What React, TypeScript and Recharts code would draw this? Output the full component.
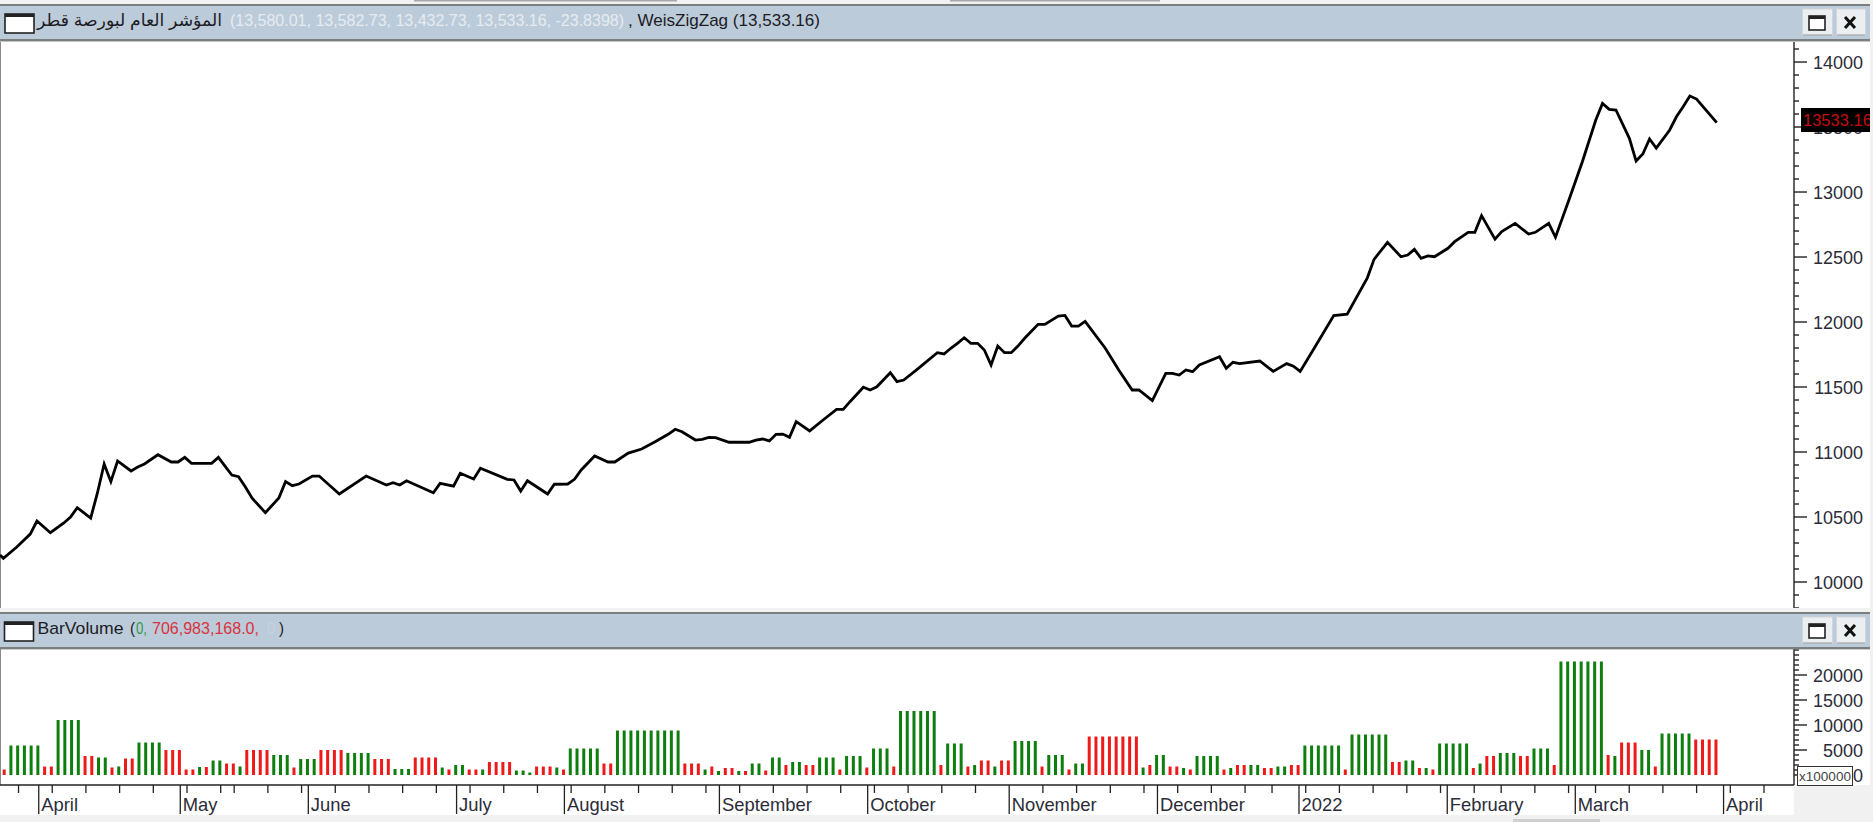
import React from "react";
import { ComposedChart, BarChart, Line, Bar, Cell, XAxis, YAxis } from "recharts";

// ---- Wave volume (units of 100000 shares), one wave = run of equal bars
const waveBars = [1,5,2,4,2,2,1,1,2,4,3,2,1,1,2,2,1,4,3,1,3,4,4,3,3,4,1,1,2,2,1,4,2,1,3,1,1,5,2,10,
  3,1,1,1,2,1,1,2,1,2,1,2,2,3,1,3,1,3,1,6,1,3,1,1,2,1,2,4,1,3,1,2,8,1,1,2,2,1,1,4,1,1,2,
  2,2,2,2,6,1,6,2,2,1,1,1,5,1,1,2,3,2,3,1,7,1,1,3,2,1,5,4];
const waveVolume = [1100,5900,1700,11000,3800,3500,1500,1700,3300,6500,5000,1100,1600,1600,2900,2300,1700,5000,4000,1500,3200,5000,4400,3200,1200,3500,1500,1100,2000,1100,1100,2600,900,500,1700,1500,1100,5300,2300,8900,
  2300,1100,1700,800,1400,800,800,2300,900,3500,2000,2600,2000,3500,1100,3800,1500,5300,1700,12800,2000,6300,1700,2000,2900,1700,2900,6800,1700,4000,1100,2300,7700,1500,2000,4000,1700,1400,1100,3800,1100,1400,2000,
  2000,1400,1700,2000,5900,1100,8100,2600,2900,1400,1400,1100,6300,1400,2300,3800,4400,3800,5300,2000,22700,4000,3800,6500,5000,1700,8300,7100];
const waveUp = [0,1,0,1,0,1,0,1,0,1,0,0,1,0,1,0,1,0,1,0,1,0,1,0,1,0,1,0,1,0,1,0,1,1,0,1,0,1,0,1,
  0,1,0,1,0,1,0,1,0,1,0,1,0,1,0,1,0,1,0,1,0,1,0,1,0,1,0,1,0,1,0,1,0,1,0,1,0,1,0,1,0,1,0,
  1,0,1,0,1,0,1,0,1,0,1,0,1,0,1,0,1,0,1,0,1,0,1,0,1,0,1,0];

// ---- Zigzag pivots: session index and close
const pivotBars = [
  -0.5,0,2,4,5,7,9,10,11,13,
  14,15,16,17,19,20,21,23,25,26,
  27,28,31,32,34,35,36,37,39,41,
  42,43,44,46,47,50,54,57,58,59,
  60,64,65,67,68,70,71,75,76,77,
  78,81,82,84,85,86,88,90,91,93,
  95,97,99,100,101,103,104,105,106,108,
  111,112,113,114,115,116,117,118,120,122,
  124,125,126,128,129,130,132,133,134,136,
  139,140,141,142,143,144,145,146,147,148,
  149,150,151,152,154,155,157,158,159,160,
  161,164,166,168,169,171,173,174,175,176,
  177,178,181,182,183,184,187,189,191,192,
  193,195,198,200,203,204,206,208,209,210,
  211,212,213,215,216,218,219,220,222,223,
  225,227,228,230,231,233,235,237,238,239,
  240,242,243,244,245,246,248,249,250,251,
  252,255];
const pivotCloses = [
  10208,10182,10269,10369,10469,10379,10454,10500,10572,10492,
  10685,10908,10772,10931,10854,10885,10908,10979,10923,10923,
  10959,10913,10913,10959,10823,10810,10733,10646,10533,10646,
  10772,10741,10754,10815,10815,10677,10815,10746,10764,10746,
  10779,10687,10759,10738,10836,10792,10875,10790,10785,10700,
  10779,10677,10752,10754,10790,10862,10969,10923,10923,10992,
  11023,11079,11138,11175,11156,11092,11098,11113,11110,11075,
  11075,11092,11100,11085,11136,11138,11113,11233,11162,11246,
  11328,11328,11387,11498,11477,11502,11610,11541,11554,11636,
  11764,11754,11798,11836,11879,11836,11836,11785,11669,11815,
  11764,11764,11815,11875,11982,11982,12046,12051,11969,11969,
  12005,11798,11631,11477,11477,11395,11605,11605,11592,11631,
  11618,11669,11733,11644,11690,11680,11700,11620,11680,11660,
  11620,11790,12050,12060,12340,12482,12613,12502,12515,12559,
  12490,12508,12502,12567,12618,12690,12690,12818,12638,12695,
  12759,12677,12690,12759,12652,12938,13233,13554,13682,13636,
  13631,13413,13238,13292,13408,13338,13477,13579,13656,13738,
  13715,13533.16];

// ---- Axis labels
const priceLabels = [10000,10500,11000,11500,12000,12500,13000,13500,14000];
const priceMinorTicks = [9800,9900,10100,10200,10300,10400,10600,10700,10800,10900,11100,11200,11300,11400,11600,11700,11800,11900,12100,12200,12300,12400,12600,12700,12800,12900,13100,13200,13300,13400,13600,13700,13800,13900,14100];
const volumeLabels = [0,5000,10000,15000,20000];
const volumeMinorTicks = [1000,2000,3000,4000,6000,7000,8000,9000,11000,12000,13000,14000,16000,17000,18000,19000,21000,22000,23000,24000,25000];
const monthNames = ["April","May","June","July","August","September","October","November","December","2022","February","March","April"];
const monthBars = [5,26,45,67,83,106,128,149,171,192,214,233,255];
const weekBars = [2,7,12,17,22,27,32,34,39,44,49,54,59,64,69,74,79,84,89,94,99,104,109,114,119,124,129,134,139,144,154,159,164,169,174,179,184,188,193,198,203,208,213,218,222,227,232,236,241,246,251,256,261];

// ---- Header texts
const seriesTitle = "المؤشر العام لبورصة قطر";
const ohlcText = "(13,580.01, 13,582.73, 13,432.73, 13,533.16, -23.8398)";
const overlayText = ", WeisZigZag (13,533.16)";
const lastClose = "13533.16";

// ---- Tables built from the arrays above
const lineData = pivotBars.map((bar, k) => ({ bar, close: pivotCloses[k] }));
const barData: { bar: number; volume: number; up: number }[] = [];
waveBars.forEach((n, w) => {
  for (let k = 0; k < n; k++) barData.push({ bar: barData.length, volume: waveVolume[w], up: waveUp[w] });
});

const INK = "#2c2c38";
const GREEN = "#0e7f0e";
const RED = "#ee1a1a";
const FONT = "'Liberation Sans', Arial, sans-serif";
const W = 1873;
const AXIS_X = 1794;
const TIME_AXIS_Y = 136; // inside the lower chart

function valueTick(labels: number[]) {
  return (p: any) => {
    const major = labels.includes(p.payload.value);
    return (
      <g>
        <line x1={AXIS_X} x2={AXIS_X + (major ? 13 : 5)} y1={p.y} y2={p.y} stroke="#222" strokeWidth={1.4} />
        {major ? (
          <text x={1863} y={p.y + 6.5} textAnchor="end" fontFamily={FONT} fontSize={18} fill={INK}>
            {p.payload.value}
          </text>
        ) : null}
      </g>
    );
  };
}

function timeTick(p: any) {
  const v = p.payload.value;
  const m = monthBars.indexOf(v);
  const x = p.x + 1;
  return (
    <g>
      <line x1={x} x2={x} y1={TIME_AXIS_Y} y2={TIME_AXIS_Y + (m >= 0 ? 29 : 8)} stroke="#222" strokeWidth={1.3} />
      {m >= 0 ? (
        <text x={x + 2.5} y={TIME_AXIS_Y + 26} fontFamily={FONT} fontSize={18.4} fill={INK}>
          {monthNames[m]}
        </text>
      ) : null}
    </g>
  );
}

function WinIcon({ x, y, w, h }: { x: number; y: number; w: number; h: number }) {
  return (
    <g>
      <rect x={x} y={y} width={w} height={h} fill="#fff" stroke="#222" strokeWidth={1.6} />
      <rect x={x} y={y} width={w} height={3} fill="#222" />
    </g>
  );
}

function Buttons({ y }: { y: number }) {
  return (
    <g>
      <rect x={1802.5} y={y} width={30} height={26} fill="#eceff1" stroke="#d2d6da" />
      <rect x={1836.5} y={y} width={29} height={26} fill="#eceff1" stroke="#d2d6da" />
      <line x1={1803} x2={1832} y1={y + 26} y2={y + 26} stroke="#9aa0a6" />
      <line x1={1837} x2={1865} y1={y + 26} y2={y + 26} stroke="#9aa0a6" />
      <WinIcon x={1809} y={y + 7} w={16} h={14} />
      <path d={`M1845 ${y + 8}L1855 ${y + 19}M1855 ${y + 8}L1845 ${y + 19}`} stroke="#111" strokeWidth={3} />
    </g>
  );
}

function Band({ top }: { top: number }) {
  return (
    <g>
      <rect x={0} y={top} width={1870} height={37} fill="#bccbd9" />
      <rect x={0} y={top} width={1870} height={2} fill="#7c7f80" />
      <rect x={0} y={top + 35} width={1870} height={2.4} fill="#7c7f80" />
    </g>
  );
}

function HeaderText({ x, y, w, fill, children }: any) {
  return (
    <text x={x} y={y} textLength={w} lengthAdjust="spacingAndGlyphs" fontFamily={`${FONT}, 'DejaVu Sans'`} fontSize={17} fill={fill}>
      {children}
    </text>
  );
}

const pos = (left: number, top: number, width: number, height: number): React.CSSProperties => ({
  position: "absolute", left, top, width, height,
});

export default function App() {
  return (
    <div style={{ ...pos(0, 0, W, 822), overflow: "hidden", background: "#f1f1f1" }}>
      <div style={{ ...pos(0, 42, 1870, 566), background: "#fff" }} />
      <div style={{ ...pos(0, 649, 1870, 136), background: "#fff" }} />
      <div style={{ ...pos(0, 785, 1794, 30), background: "#fff" }} />
      <div style={{ ...pos(0, 42, 1, 566), background: "#8a8a8a" }} />
      <div style={{ ...pos(0, 649, 1, 136), background: "#8a8a8a" }} />

      <div style={pos(0, 42, 1873, 566)}>
        <ComposedChart width={1873} height={566} data={lineData} margin={{ top: 0, right: 0, bottom: 0, left: 0 }}>
          <XAxis type="number" dataKey="bar" domain={[-0.5, 266.5]} hide allowDataOverflow />
          <YAxis
            orientation="right"
            width={79}
            domain={[9800, 14154]}
            allowDataOverflow
            ticks={[...priceMinorTicks, ...priceLabels]}
            interval={0}
            axisLine={{ stroke: "#222", strokeWidth: 1.4 }}
            tickLine={false}
            tickSize={0}
            tick={valueTick(priceLabels)}
          />
          <Line dataKey="close" type="linear" stroke="#000" strokeWidth={2.8} strokeLinejoin="miter" dot={false} isAnimationActive={false} />
        </ComposedChart>
      </div>

      <div style={pos(0, 649, 1873, 173)}>
        <BarChart width={1873} height={173} data={barData} margin={{ top: 0, right: 0, bottom: 0, left: 0 }}>
          <XAxis
            type="number"
            dataKey="bar"
            domain={[-0.6, 265.6]}
            allowDataOverflow
            ticks={[...weekBars, ...monthBars]}
            interval={0}
            height={37}
            axisLine={{ stroke: "#222", strokeWidth: 1.4 }}
            tickLine={false}
            tickSize={0}
            tick={timeTick}
          />
          <YAxis
            orientation="right"
            width={79}
            domain={[-2000, 25200]}
            allowDataOverflow
            ticks={[...volumeMinorTicks, ...volumeLabels]}
            interval={0}
            axisLine={{ stroke: "#222", strokeWidth: 1.4 }}
            tickLine={false}
            tickSize={0}
            tick={valueTick(volumeLabels)}
          />
          <Bar dataKey="volume" barSize={3} isAnimationActive={false}>
            {barData.map((d) => (
              <Cell key={d.bar} fill={d.up ? GREEN : RED} />
            ))}
          </Bar>
        </BarChart>
      </div>

      <svg width={W} height={822} style={{ position: "absolute", left: 0, top: 0, pointerEvents: "none" }}>
        <Band top={4} />
        <Band top={612} />
        <WinIcon x={5} y={14} w={29} h={19} />
        <WinIcon x={4.5} y={622} w={29} h={19} />
        <Buttons y={9} />
        <Buttons y={617} />
        <HeaderText x={37} y={26} w={185} fill="#1c1c24">{seriesTitle}</HeaderText>
        <HeaderText x={230} y={26} w={394} fill="#e6ebf1">{ohlcText}</HeaderText>
        <HeaderText x={628} y={26} w={192} fill="#1c1c24">{overlayText}</HeaderText>
        <HeaderText x={37.5} y={634} w={86} fill="#1c1c24">BarVolume</HeaderText>
        <HeaderText x={130} y={634} w={5} fill="#1c1c24">(</HeaderText>
        <HeaderText x={136} y={634} w={11} fill="#2a9a4a">0,</HeaderText>
        <HeaderText x={152} y={634} w={107} fill="#d9323f">706,983,168.0,</HeaderText>
        <HeaderText x={267} y={634} w={8} fill="#c8d2dc">0</HeaderText>
        <HeaderText x={279} y={634} w={5} fill="#1c1c24">)</HeaderText>
        <rect x={414} y={0} width={263} height={1.5} fill="#a8a8a8" />
        <rect x={950} y={0} width={210} height={1.5} fill="#a8a8a8" />
        <rect x={1513} y={819} width={87} height={3} fill="#cfcfcf" />
      </svg>

      <div style={{ ...pos(1801, 108, 69, 24), background: "#000", color: "#c40d0d", overflow: "hidden", fontFamily: FONT, fontSize: 16.5, lineHeight: "24px", whiteSpace: "nowrap" }}>
        <span style={{ marginLeft: 2 }}>{lastClose}</span>
      </div>
      <div style={{ ...pos(1797, 766, 54, 18), background: "#fff", border: "1px solid #333", color: "#444", fontFamily: FONT, fontSize: 13.5, lineHeight: "19px", textAlign: "center" }}>
        x100000
      </div>
    </div>
  );
}
